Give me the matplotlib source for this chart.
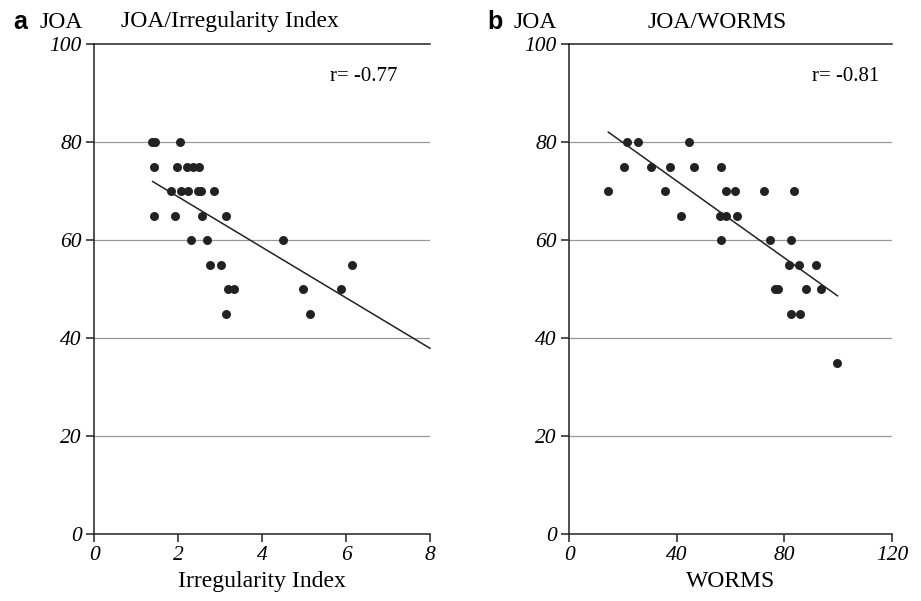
import matplotlib
matplotlib.use("Agg")
import matplotlib.pyplot as plt
import numpy as np

# Panel a: JOA vs Irregularity Index
irr_x = [1.37, 1.45, 2.04,
         1.43, 1.98, 2.2, 2.36, 2.5,
         1.82, 2.06, 2.24, 2.48, 2.54, 2.85,
         1.43, 1.92, 2.57, 3.13,
         2.31, 2.68, 4.49,
         2.75, 3.03, 6.14,
         3.18, 3.33, 4.98, 5.87,
         3.14, 5.15]
irr_y = [80, 80, 80,
         75, 75, 75, 75, 75,
         70, 70, 70, 70, 70, 70,
         65, 65, 65, 65,
         60, 60, 60,
         55, 55, 55,
         50, 50, 50, 50,
         45, 45]
irr_fit = (79.1, -5.15)  # intercept, slope
irr_fit_range = (1.39, 8.0)
irr_r = "r= -0.77"

# Panel b: JOA vs WORMS
worms_x = [21.6, 25.4, 44.4,
           20.4, 30.4, 37.4, 46.4, 56.4,
           14.5, 35.6, 58.4, 61.5, 72.5, 83.5,
           41.5, 56.0, 58.3, 62.5,
           56.3, 74.6, 82.4,
           81.7, 85.5, 91.6,
           76.5, 77.7, 87.9, 93.6,
           82.4, 85.8,
           99.7]
worms_y = [80, 80, 80,
           75, 75, 75, 75, 75,
           70, 70, 70, 70, 70, 70,
           65, 65, 65, 65,
           60, 60, 60,
           55, 55, 55,
           50, 50, 50, 50,
           45, 45,
           35]
worms_fit = (87.7, -0.392)
worms_fit_range = (14.5, 99.7)
worms_r = "r= -0.81"

y_ticks = [0, 20, 40, 60, 80, 100]
a_xticks = [0, 2, 4, 6, 8]
b_xticks = [0, 40, 80, 120]

serif = "Liberation Serif"
fig = plt.figure(figsize=(9.21, 6.01), dpi=100)

W, H = 921, 601
def box(l, r, t, b):
    return [l / W, 1 - b / H, (r - l) / W, (b - t) / H]

ax_a = fig.add_axes(box(94.3, 430, 44, 534))
ax_b = fig.add_axes(box(569.3, 892, 44, 534))

def style(ax, xmax, xticks, xlabel):
    ax.set_xlim(0, xmax)
    ax.set_ylim(0, 100)
    ax.spines['right'].set_visible(False)
    for s in ['left', 'bottom', 'top']:
        ax.spines[s].set_linewidth(1.1)
        ax.spines[s].set_color('#222222')
    for yv in [20, 40, 60, 80]:
        ax.axhline(yv, color='#999999', lw=0.9, zorder=0)
    ax.set_xticks(xticks)
    ax.set_yticks(y_ticks)
    ax.set_xticklabels([str(t) for t in xticks], fontfamily=serif, style='italic', fontsize=15.5)
    ax.set_yticklabels([str(t) for t in y_ticks], fontfamily=serif, style='italic', fontsize=15.5)
    ax.tick_params(direction='out', length=6, width=1.1, color='#222222', pad=3)
    ax.set_xlabel(xlabel, fontfamily=serif, fontsize=17, labelpad=4)

style(ax_a, 8, a_xticks, "Irregularity Index")
style(ax_b, 120, b_xticks, "WORMS")

ax_a.scatter(irr_x, irr_y, s=42, color='#222222', zorder=3, linewidths=0)
xf = np.array(irr_fit_range)
ax_a.plot(xf, irr_fit[0] + irr_fit[1] * xf, color='#222222', lw=1.1, zorder=2, clip_on=False)
ax_a.text(7.23, 93.3, irr_r, ha='right', va='center', fontfamily=serif, fontsize=15)

ax_b.scatter(worms_x, worms_y, s=42, color='#222222', zorder=3, linewidths=0)
xf = np.array(worms_fit_range)
ax_b.plot(xf, worms_fit[0] + worms_fit[1] * xf, color='#222222', lw=1.1, zorder=2)
ax_b.text(115.1, 93.3, worms_r, ha='right', va='center', fontfamily=serif, fontsize=15)

ty = 1 - 22 / H
fig.text(13 / W, ty, "a", fontfamily="Liberation Sans", fontweight='bold', fontsize=18, ha='left', va='center')
fig.text(40 / W, ty, "JOA", fontfamily=serif, fontsize=17, ha='left', va='center')
fig.text(230 / W, ty, "JOA/Irregularity Index", fontfamily=serif, fontsize=17, ha='center', va='center')

fig.text(487 / W, ty, "b", fontfamily="Liberation Sans", fontweight='bold', fontsize=18, ha='left', va='center')
fig.text(513 / W, ty, "JOA", fontfamily=serif, fontsize=17, ha='left', va='center')
fig.text(717 / W, ty, "JOA/WORMS", fontfamily=serif, fontsize=17, ha='center', va='center')

fig.savefig("out.png", dpi=100)
